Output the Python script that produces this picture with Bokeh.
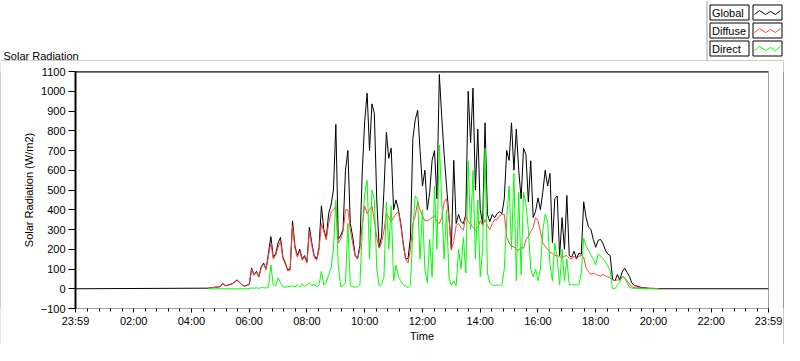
from bokeh.plotting import figure
from bokeh.models import Range1d, FixedTicker, Span
from bokeh.layouts import column, row
from bokeh.core.properties import value
from bokeh.embed import file_html
from bokeh.resources import INLINE

# ---------------- data (W/m2), 5-minute readings from 04:35 to 20:10 ----------------
START_TIME = "04:35"
STEP_MINUTES = 5

global_wm2 = [
    3, 5, 6, 8, 8,
    12, 27, 16, 18, 22, 26, 35, 45, 32, 20, 14, 18,
    22, 104, 70, 88, 60, 112, 130, 100, 180, 264, 160, 176,
    232, 260, 160, 130, 95, 100, 344, 216, 168, 200, 152, 168,
    136, 312, 232, 168, 150, 208, 420, 300, 256, 380, 424, 500,
    832, 250, 270, 300, 600, 700, 330, 264, 170, 152, 220, 600,
    850, 990, 700, 936, 888, 450, 210, 264, 500, 792, 660, 712,
    400, 450, 400, 330, 230, 152, 152, 260, 760, 856, 904, 700,
    520, 600, 400, 488, 650, 700, 456, 1085, 872, 680, 520, 370,
    200, 650, 330, 376, 340, 330, 376, 1000, 740, 1016, 500, 808,
    400, 330, 840, 376, 340, 376, 360, 380, 390, 380, 456, 700,
    650, 840, 600, 808, 600, 456, 712, 680, 440, 648, 360, 392,
    460, 400, 488, 600, 520, 584, 232, 456, 470, 168, 360, 200,
    472, 168, 160, 190, 152, 180, 175, 440, 360, 312, 300, 250,
    210, 245, 250, 230, 195, 176, 168, 48, 40, 72, 45, 85,
    104, 84, 62, 30, 16, 14, 10, 6, 5, 4, 3, 2,
    2, 1, 0,
]

diffuse_wm2 = [
    3, 5, 6, 8, 8,
    12, 25, 15, 17, 21, 25, 33, 42, 30, 19, 13, 17,
    21, 98, 68, 84, 58, 106, 124, 96, 168, 232, 150, 168,
    210, 240, 152, 124, 90, 95, 320, 205, 160, 190, 144, 160,
    130, 290, 220, 160, 144, 196, 330, 290, 248, 330, 385, 400,
    420, 232, 250, 290, 400, 400, 300, 230, 165, 150, 200, 330,
    420, 380, 400, 420, 344, 260, 205, 232, 296, 380, 360, 340,
    360, 380, 390, 320, 220, 150, 130, 200, 328, 370, 440, 400,
    370, 344, 344, 350, 360, 370, 340, 330, 360, 440, 456, 360,
    195, 240, 320, 330, 310, 296, 370, 340, 328, 310, 300, 310,
    344, 320, 350, 320, 300, 330, 350, 350, 370, 375, 376, 260,
    232, 216, 212, 200, 195, 210, 205, 248, 264, 290, 310, 360,
    345, 290, 232, 215, 200, 184, 180, 168, 168, 160, 160, 165,
    168, 155, 150, 165, 150, 165, 168, 160, 104, 88, 72, 80,
    72, 68, 64, 72, 66, 60, 54, 46, 40, 45, 44, 56,
    58, 40, 24, 10, 6, 5, 4, 3, 3, 2, 2, 1,
    1, 0, 0,
]

direct_wm2 = [
    0, 0, 0, 0, 0,
    0, 0, 0, 0, 0, 0, 0, 0, 0, 0, 0, 0,
    2, 4, 3, 5, 2, 6, 5, 4, 8, 120, 20, 15,
    56, 30, 10, 8, 10, 12, 15, 10, 20, 8, 25, 12,
    20, 30, 15, 25, 10, 20, 88, 20, 30, 72, 104, 200,
    448, 120, 10, 15, 30, 330, 15, 10, 8, 10, 20, 300,
    480, 550, 150, 500, 450, 100, 15, 20, 60, 440, 200, 420,
    40, 120, 60, 40, 20, 15, 5, 20, 300, 470, 450, 150,
    400, 100, 30, 250, 60, 520, 200, 728, 450, 150, 400, 60,
    15, 40, 15, 200, 100, 260, 80, 648, 300, 600, 150, 450,
    60, 200, 712, 80, 30, 20, 15, 20, 15, 20, 100, 350,
    520, 200, 584, 40, 488, 72, 488, 430, 300, 100, 60, 100,
    40, 100, 296, 376, 344, 120, 40, 232, 150, 20, 200, 40,
    150, 20, 20, 20, 20, 20, 80, 256, 216, 195, 170, 150,
    120, 176, 165, 152, 135, 115, 90, 0, 0, 20, 35, 64,
    55, 30, 8, 3, 2, 1, 1, 0, 0, 0, 0, 0,
    0, 0, 0,
]

# global radiation reading at night (before first and after last sample)
NIGHT_GLOBAL = 0

X_TICK_MINUTES = [-1, 120, 240, 360, 480, 600, 720, 840, 960, 1080, 1200, 1320, 1439]
X_TICK_LABELS = ["23:59", "02:00", "04:00", "06:00", "08:00", "10:00", "12:00",
                 "14:00", "16:00", "18:00", "20:00", "22:00", "23:59"]
Y_TICKS = [-100, 0, 100, 200, 300, 400, 500, 600, 700, 800, 900, 1000, 1100]

SERIES_NAMES = ["Global", "Diffuse", "Direct"]
SERIES_COLORS = ["#000000", "#ff4040", "#00ff00"]
CAPTION = "Solar Radiation"

FONT = "Liberation Sans"
FS = "11px"
PANEL_LIGHT = "#a0a0a0"
PANEL_DARK = "#303030"

# ---------------- derived x positions (minutes since midnight) ----------------
h0, m0 = START_TIME.split(":")
start_min = int(h0) * 60 + int(m0)
times = [start_min + i * STEP_MINUTES for i in range(len(global_wm2))]

W = 784
HEAD_H = 61
MAIN_H = 283

# ================= header strip: caption + LabVIEW-style legend =================
head = figure(width=W, height=HEAD_H, x_range=Range1d(0, W), y_range=Range1d(HEAD_H, 0),
              output_backend="svg", toolbar_location=None, min_border=0,
              x_axis_type=None, y_axis_type=None)
head.outline_line_color = None
head.background_fill_color = "white"
head.border_fill_color = "white"

head.text(x=[3], y=[55], text=[CAPTION], text_font=value(FONT),
          text_font_size=value(FS), text_color="black", text_baseline="alphabetic")
# panel top edge and legend separator
head.line([0, W], [60.5, 60.5], line_color=PANEL_LIGHT, line_width=1)
LEG_X = 706.5
head.line([LEG_X, LEG_X], [0, HEAD_H], line_color=PANEL_LIGHT, line_width=1)

row_tops = [4.5, 22.5, 40.5]
row_bots = [t + 15 for t in row_tops]
n = len(SERIES_NAMES)
head.quad(left=[LEG_X + 3] * n, right=[LEG_X + 42] * n, top=row_tops, bottom=row_bots,
          fill_color="white", line_color="black", line_width=1)
head.quad(left=[LEG_X + 46] * n, right=[LEG_X + 75] * n, top=row_tops, bottom=row_bots,
          fill_color="white", line_color="black", line_width=1)
head.text(x=[LEG_X + 5] * n, y=[t + 8 for t in row_tops], text=SERIES_NAMES,
          text_font=value(FONT), text_font_size=value(FS), text_color="black",
          text_baseline="middle", text_align="left")
ZIG_DX = [1.5, 6.5, 12.5, 17.5, 22.5, 27.5]
ZIG_DY = [9.5, 5.5, 9.5, 6.5, 9.5, 5.5]
head.multi_line(xs=[[LEG_X + 46 + d for d in ZIG_DX] for _ in row_tops],
                ys=[[t + d for d in ZIG_DY] for t in row_tops],
                line_color=SERIES_COLORS, line_width=1)

# ================= main chart =================
p = figure(width=W - 2, height=MAIN_H,
           x_range=Range1d(X_TICK_MINUTES[0], X_TICK_MINUTES[-1]),
           y_range=Range1d(Y_TICKS[0], Y_TICKS[-1]),
           output_backend="svg", toolbar_location=None,
           min_border_left=74, min_border_right=15,
           min_border_top=10, min_border_bottom=31)
p.background_fill_color = "white"
p.border_fill_color = "white"
p.xgrid.grid_line_color = None
p.ygrid.grid_line_color = None
p.outline_line_color = PANEL_LIGHT

# lines: global first, then diffuse, then direct on top
p.line([X_TICK_MINUTES[0]] + times + [X_TICK_MINUTES[-1]],
       [NIGHT_GLOBAL] + global_wm2 + [NIGHT_GLOBAL],
       line_color=SERIES_COLORS[0], line_width=1)
p.line(times, diffuse_wm2, line_color=SERIES_COLORS[1], line_width=1)
p.line(times, direct_wm2, line_color=SERIES_COLORS[2], line_width=1)

# frame top edge (dark)
p.add_layout(Span(location=Y_TICKS[-1], dimension="width", line_color="black", line_width=2))

xa = p.xaxis[0]
xa.ticker = FixedTicker(ticks=X_TICK_MINUTES,
                        minor_ticks=[m for m in range(24, 1439, 24) if m % 120 != 0])
xa.major_label_overrides = {t: l for t, l in zip(X_TICK_MINUTES, X_TICK_LABELS)}
xa.axis_label = "Time"
xa.axis_line_color = PANEL_LIGHT
xa.major_tick_out = 4
xa.major_tick_in = 0
xa.minor_tick_out = 3
xa.minor_tick_in = 0
xa.major_label_standoff = 2
xa.axis_label_standoff = 0
xa.minor_tick_line_color = "black"

ya = p.yaxis[0]
ya.ticker = FixedTicker(ticks=Y_TICKS)
ya.axis_label = "Solar Radiation (W/m2)"
ya.axis_line_color = "black"
ya.axis_line_width = 2
ya.major_tick_out = 7
ya.major_tick_in = 0
ya.minor_tick_line_color = None
ya.major_label_standoff = 3
ya.axis_label_standoff = 3

for ax in (xa, ya):
    ax.major_label_text_font = FONT
    ax.major_label_text_font_size = FS
    ax.major_label_text_color = "black"
    ax.axis_label_text_font = FONT
    ax.axis_label_text_font_size = FS
    ax.axis_label_text_font_style = "normal"
    ax.axis_label_text_color = "black"
    ax.major_tick_line_color = "black"


def strip(w, h, color):
    f = figure(width=w, height=h, output_backend="svg", toolbar_location=None,
               min_border=0, x_axis_type=None, y_axis_type=None)
    f.outline_line_color = None
    f.background_fill_color = color
    f.border_fill_color = color
    return f


layout = column(
    head,
    row(strip(1, MAIN_H, PANEL_LIGHT), p, strip(1, MAIN_H, PANEL_DARK)),
    strip(W, 1, PANEL_DARK),
)

open("out.html", "w").write(file_html(layout, INLINE))
